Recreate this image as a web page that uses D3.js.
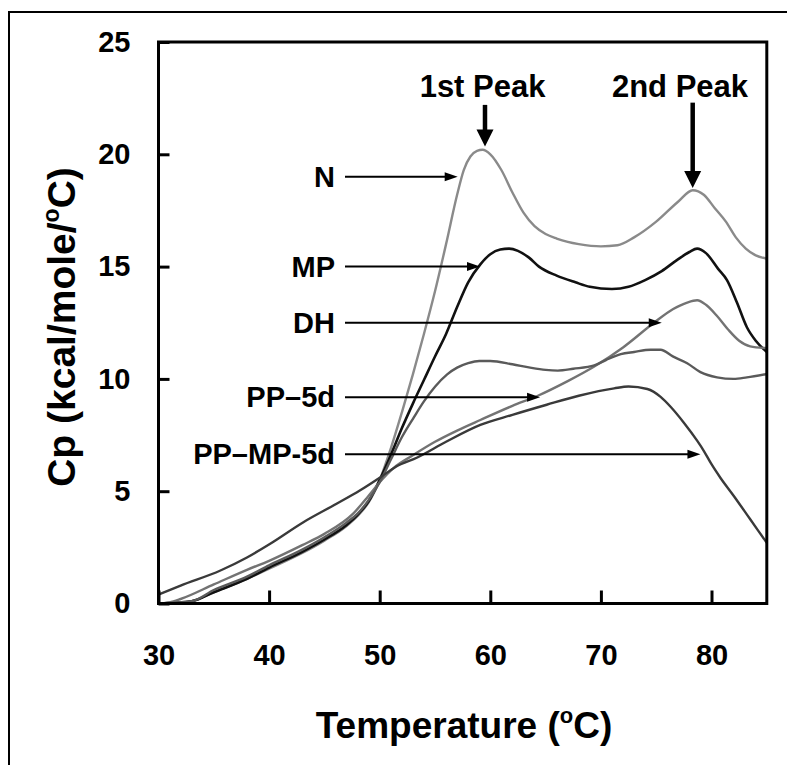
<!DOCTYPE html>
<html>
<head>
<meta charset="utf-8">
<script src="https://cdn.jsdelivr.net/npm/d3@7/dist/d3.min.js"></script>
<style>
  html, body { margin: 0; padding: 0; background: #fff; }
  svg { display: block; }
  text { font-family: "Liberation Sans", Arial, Helvetica, sans-serif; font-weight: bold; fill: #000; }
</style>
</head>
<body>
<svg id="chart" width="787" height="765"></svg>
<script>
// ---------------- data ----------------
const xTicks = [30, 40, 50, 60, 70, 80];
const yTicks = [0, 5, 10, 15, 20, 25];

const N_T  = [30, 32, 33, 35, 38, 40, 43, 45, 47, 48, 49, 50, 51, 52, 53, 54, 55, 56, 57, 57.6, 58.2, 58.8, 59.3, 60, 61, 62, 63, 64, 65, 66, 67, 68, 70, 71.5, 73, 75, 77, 78.3, 79.3, 80.3, 81.3, 82.2, 83.1, 84, 85];
const N_CP = [0, 0, 0.1, 0.5, 1.1, 1.55, 2.25, 2.8, 3.45, 3.9, 4.5, 5.5, 6.9, 8.5, 10.2, 12.0, 13.9, 16.0, 18.2, 19.3, 19.9, 20.15, 20.2, 20.0, 19.3, 18.3, 17.4, 16.8, 16.45, 16.25, 16.1, 16.0, 15.9, 15.95, 16.3, 17.0, 17.9, 18.4, 18.2, 17.6, 17.0, 16.3, 15.8, 15.5, 15.35];

const MP_T  = [30, 33, 35, 38, 40, 43, 45, 47, 48, 49, 50, 51, 52, 53, 54, 55, 56, 57, 58, 59.1, 60, 60.9, 61.7, 62.5, 63.5, 64.4, 66, 67.7, 69, 71, 72.5, 74, 75.5, 76.9, 78, 78.7, 79.5, 80.6, 81.4, 82.3, 83.2, 84, 85];
const MP_CP = [0, 0.1, 0.5, 1.1, 1.6, 2.3, 2.85, 3.5, 3.95, 4.55, 5.5, 6.6, 7.8, 8.9, 9.95, 11.0, 12.0, 13.2, 14.3, 15.1, 15.55, 15.76, 15.8, 15.7, 15.4, 15.0, 14.6, 14.3, 14.1, 14.0, 14.1, 14.4, 14.8, 15.3, 15.65, 15.8, 15.6, 14.9, 14.4, 13.4, 12.3, 11.7, 11.2];

const DH_T  = [30, 31, 32, 35, 38, 40, 43, 45, 47.6, 49, 50, 51.3, 53, 55, 57, 59.1, 62, 64.3, 67, 69.4, 72, 74.8, 76.5, 77.8, 78.7, 79.5, 80.5, 81.5, 82.5, 83.5, 85];
const DH_CP = [0, 0.05, 0.2, 0.85, 1.5, 1.9, 2.6, 3.1, 4.0, 4.8, 5.4, 6.05, 6.6, 7.2, 7.7, 8.17, 8.8, 9.25, 9.9, 10.55, 11.4, 12.5, 13.1, 13.4, 13.5, 13.3, 12.8, 12.2, 11.7, 11.45, 11.37];

const PP5D_T  = [30, 33, 35, 38, 40, 43, 45, 47, 48, 49, 50, 51, 52, 53.1, 54, 55, 56.1, 57, 58, 59, 60, 62, 63.6, 65, 66.1, 67.5, 69.4, 70.5, 71.8, 73, 74.5, 75.4, 76.5, 77.8, 79, 80.5, 82, 83.2, 85];
const PP5D_CP = [0, 0.1, 0.6, 1.2, 1.7, 2.4, 2.95, 3.6, 4.0, 4.6, 5.4, 6.4, 7.4, 8.3, 9.0, 9.65, 10.2, 10.5, 10.7, 10.8, 10.8, 10.65, 10.5, 10.4, 10.37, 10.45, 10.6, 10.85, 11.1, 11.2, 11.3, 11.3, 11.0, 10.7, 10.3, 10.07, 10.0, 10.07, 10.22];

const PPMP5D_T  = [30, 32, 35.6, 38, 40.1, 43.1, 46.1, 48.2, 50, 51.5, 53.4, 56, 59.1, 62, 65.1, 68, 71.2, 72.5, 74.2, 75.4, 76.3, 77.5, 78.7, 79.3, 80, 80.8, 82, 83.5, 85];
const PPMP5D_CP = [0.4, 0.8, 1.47, 2.05, 2.66, 3.62, 4.44, 5.03, 5.6, 6.1, 6.5, 7.2, 7.95, 8.4, 8.85, 9.25, 9.58, 9.66, 9.55, 9.2, 8.76, 8.05, 7.25, 6.8, 6.2, 5.6, 4.8, 3.75, 2.7];

// annotation labels and where their arrows point (data units)
const labelNames = ["N", "MP", "DH", "PP\u20135d", "PP\u2013MP-5d"];
const labelTipT  = [57.05, 59.07, 75.5, 64.5, 79.0];
const labelTipCp = [19.0, 15.0, 12.5, 9.18, 6.64];

const peakNames = ["1st Peak", "2nd Peak"];
const peakT     = [59.52, 78.3];
const peakTipCp = [20.35, 18.5];
const peakTopCp = [22.2, 22.3];
const peakTextT = [59.3, 77.15];

// ---------------- chart ----------------
const svg = d3.select("#chart");
const x = d3.scaleLinear().domain([30, 85]).range([158.5, 766.8]);
const y = d3.scaleLinear().domain([0, 25]).range([603.5, 42]);

// outer frame (cropped picture border)
svg.append("path").attr("d", "M9,765 V12 H787").attr("fill", "none").attr("stroke", "#000").attr("stroke-width", 2);

const series = [
  { T: N_T, cp: N_CP, color: "#8a8a8a", w: 2.4 },
  { T: MP_T, cp: MP_CP, color: "#111111", w: 2.6 },
  { T: DH_T, cp: DH_CP, color: "#737373", w: 2.4 },
  { T: PP5D_T, cp: PP5D_CP, color: "#5a5a5a", w: 2.4 },
  { T: PPMP5D_T, cp: PPMP5D_CP, color: "#3a3a3a", w: 2.4 }
];

const line = d3.line().x(d => x(d[0])).y(d => y(d[1])).curve(d3.curveMonotoneX);
series.forEach(s => {
  const pts = s.T.map((t, i) => [t, s.cp[i]]);
  svg.append("path").datum(pts).attr("d", line)
    .attr("fill", "none").attr("stroke", s.color).attr("stroke-width", s.w)
    .attr("stroke-linejoin", "round");
});

// axes
const gx = svg.append("g").attr("transform", `translate(0,${y(0)})`)
  .call(d3.axisBottom(x).tickValues(xTicks).tickSizeInner(-13).tickSizeOuter(0).tickPadding(41));
const gy = svg.append("g").attr("transform", `translate(${x(30)},0)`)
  .call(d3.axisLeft(y).tickValues(yTicks).tickSizeInner(-11).tickSizeOuter(0).tickPadding(28));
[gx, gy].forEach(g => {
  g.select(".domain").remove();
  g.selectAll(".tick line").attr("stroke", "#000").attr("stroke-width", 3);
  g.selectAll(".tick text").style("font-size", "29px").style("font-family", '"Liberation Sans", Arial, sans-serif').style("font-weight", "bold").attr("fill", "#000");
});

// plot frame
svg.append("rect").attr("x", x(30)).attr("y", y(25))
  .attr("width", x(85) - x(30)).attr("height", y(0) - y(25))
  .attr("fill", "none").attr("stroke", "#000").attr("stroke-width", 3);

// axis titles
const xt = svg.append("text").attr("x", 464).attr("y", 738).attr("text-anchor", "middle").style("font-size", "37px");
xt.append("tspan").text("Temperature (");
xt.append("tspan").text("o").style("font-size", "22px").attr("dy", -15);
xt.append("tspan").text("C)").attr("dy", 15);

const yt = svg.append("text").attr("transform", "translate(75,327) rotate(-90)").attr("text-anchor", "middle").style("font-size", "39px");
yt.append("tspan").text("Cp (kcal/mole/");
yt.append("tspan").text("o").style("font-size", "23px").attr("dy", -16);
yt.append("tspan").text("C)").attr("dy", 16);

// label arrows
labelNames.forEach((name, i) => {
  const ty = y(labelTipCp[i]);
  const tx = x(labelTipT[i]);
  svg.append("text").attr("x", 335).attr("y", ty + 10).attr("text-anchor", "end").style("font-size", "29px").text(name);
  svg.append("line").attr("x1", 345).attr("x2", tx - 10).attr("y1", ty).attr("y2", ty)
    .attr("stroke", "#000").attr("stroke-width", 2);
  svg.append("path").attr("d", `M${tx},${ty} L${tx - 13},${ty - 4.5} L${tx - 13},${ty + 4.5} Z`).attr("fill", "#000");
});

// peak arrows
peakNames.forEach((name, i) => {
  const px = x(peakT[i]);
  const tip = y(peakTipCp[i]);
  const top = y(peakTopCp[i]);
  svg.append("text").attr("x", x(peakTextT[i])).attr("y", 97).attr("text-anchor", "middle").style("font-size", "31px").text(name);
  svg.append("line").attr("x1", px).attr("x2", px).attr("y1", top).attr("y2", tip - 12)
    .attr("stroke", "#000").attr("stroke-width", 4.5);
  svg.append("path").attr("d", `M${px},${tip} L${px - 8.5},${tip - 17} L${px + 8.5},${tip - 17} Z`).attr("fill", "#000");
});
</script>
</body>
</html>
